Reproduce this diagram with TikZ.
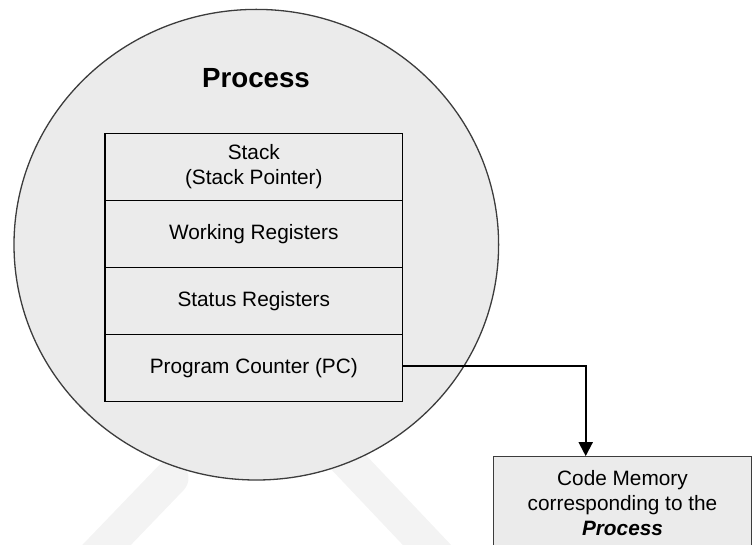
\documentclass[tikz,border=0pt]{standalone}
\usepackage{fontspec}
\setmainfont{Liberation Sans}
\usetikzlibrary{arrows.meta}
\definecolor{fillgray}{HTML}{EBEBEB}
\definecolor{edgegray}{HTML}{3C3C3C}
\definecolor{markgray}{HTML}{F3F3F3}
\tikzset{
  regtext/.style={font=\fontsize{20.8}{25}\selectfont, align=center},
  row/.style={draw=black, line width=1.2pt, minimum width=297.7pt, minimum height=67pt, inner sep=0pt, regtext},
  memory/.style={draw=edgegray, fill=fillgray, line width=1.2pt, minimum width=258.4pt, minimum height=92.6pt, inner sep=0pt, regtext},
  procblob/.style={draw=edgegray, fill=fillgray, line width=1.3pt},
  band/.style={markgray, line width=35pt},
  arr/.style={draw=black, line width=2pt, -{Triangle[width=14pt,length=14pt]}},
}
\begin{document}
\begin{tikzpicture}[x=1pt,y=-1pt]
\useasboundingbox (0,0) rectangle (752,545);
\clip (0,0) rectangle (752,545);
% faint watermark bands
\draw[band, line cap=round] (95,557) -- (171,478);
\draw[band] (300,411) -- (445,564);
% process circle
\draw[procblob] (256.3,244.7) ellipse [x radius=242.3, y radius=235.3];
\node[font=\fontsize{27.7}{30}\selectfont\bfseries] (title) at (256,78) {Process};
% register stack
\node[row] (stack) at (253.8,166.8) {Stack\\(Stack Pointer)};
\node[row] (work) at (253.8,233.8) {Working Registers};
\node[row] (status) at (253.8,300.8) {Status Registers};
\node[row] (pc) at (253.8,367.7) {Program Counter (PC)};
% code memory
\node[memory] (code) at (622.5,503) {Code Memory\\corresponding to the\\\textbf{\itshape Process}};
\coordinate (bend) at (585.7,366);
\draw[arr] (pc.east |- bend) -- (bend) -- (bend |- code.north);
\end{tikzpicture}
\end{document}
